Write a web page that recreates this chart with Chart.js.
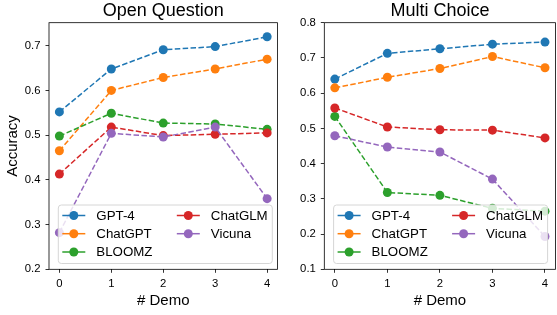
<!DOCTYPE html>
<html>
<head>
<meta charset="utf-8">
<script src="https://cdn.jsdelivr.net/npm/chart.js@4.4.1/dist/chart.umd.min.js"></script>
<style>
    html, body { margin: 0; padding: 0; background: #fff; overflow: hidden; width: 557px; height: 315px; }
    #wrap { position: relative; width: 557px; height: 315px; }
    canvas { position: absolute; top: 0; }
    #openChart { left: 0; }
    #multiChart { left: 290px; }
</style>
</head>
<body>
<div id="wrap">
    <canvas id="openChart" width="282" height="315"></canvas>
    <canvas id="multiChart" width="270" height="315"></canvas>
</div>
<script>
// --- 1. Data ---
const demoSteps = [0, 1, 2, 3, 4];
const modelNames = ['GPT-4', 'ChatGPT', 'BLOOMZ', 'ChatGLM', 'Vicuna'];
const modelColors = ['#1f77b4', '#ff7f0e', '#2ca02c', '#d62728', '#9467bd'];

// Open Question accuracy
const openGpt4    = [0.552, 0.648, 0.691, 0.698, 0.720];
const openChatgpt = [0.465, 0.600, 0.629, 0.648, 0.670];
const openBloomz  = [0.498, 0.549, 0.527, 0.525, 0.513];
const openChatglm = [0.413, 0.518, 0.499, 0.502, 0.505];
const openVicuna  = [0.282, 0.504, 0.496, 0.518, 0.358];

// Multi Choice accuracy
const multiGpt4    = [0.640, 0.713, 0.726, 0.739, 0.745];
const multiChatgpt = [0.615, 0.645, 0.670, 0.704, 0.672];
const multiBloomz  = [0.534, 0.318, 0.310, 0.273, 0.265];
const multiChatglm = [0.558, 0.504, 0.496, 0.495, 0.473];
const multiVicuna  = [0.479, 0.447, 0.433, 0.356, 0.193];

// Tick labels
const xTicks = [0, 1, 2, 3, 4];
const openYTicks = [0.2, 0.3, 0.4, 0.5, 0.6, 0.7];
const multiYTicks = [0.1, 0.2, 0.3, 0.4, 0.5, 0.6, 0.7, 0.8];

const FONT = '"Liberation Sans", Arial, sans-serif';

// --- 2. Plugins ---
// full frame round the plot area, like matplotlib spines
const framePlugin = {
    id: 'frame',
    afterDraw(chart) {
        const { ctx, chartArea: a } = chart;
        ctx.save();
        ctx.strokeStyle = '#000';
        ctx.lineWidth = 0.8;
        ctx.strokeRect(a.left, a.top, a.right - a.left, a.bottom - a.top);
        ctx.restore();
    }
};

// legend box inside the plot, two columns
const legendBoxPlugin = {
    id: 'legendBox',
    afterDatasetsDraw(chart, args, opts) {
        const { ctx, chartArea } = chart;
        const x0 = chartArea.left + opts.offsetX;
        const y0 = chartArea.bottom - opts.offsetY - opts.height;
        ctx.save();
        ctx.beginPath();
        ctx.roundRect(x0, y0, opts.width, opts.height, 3);
        ctx.fillStyle = 'rgba(255,255,255,0.8)';
        ctx.fill();
        ctx.strokeStyle = '#d6d6d6';
        ctx.lineWidth = 1;
        ctx.stroke();

        ctx.font = '13.3px ' + FONT;
        ctx.textBaseline = 'middle';
        ctx.textAlign = 'left';
        chart.data.datasets.forEach((ds, i) => {
            const col = Math.floor(i / 3);
            const row = i % 3;
            const hx = x0 + opts.colX[col];
            const hy = y0 + opts.rowY[row];
            ctx.strokeStyle = ds.borderColor;
            ctx.lineWidth = 1.5;
            ctx.beginPath();
            ctx.moveTo(hx, hy);
            ctx.lineTo(hx + 23, hy);
            ctx.stroke();
            ctx.fillStyle = ds.borderColor;
            ctx.beginPath();
            ctx.arc(hx + 11.5, hy, 4.5, 0, Math.PI * 2);
            ctx.fill();
            ctx.fillStyle = '#000';
            ctx.fillText(ds.label, hx + 34, hy + 0.5);
        });
        ctx.restore();
    }
};

// --- 3. Chart builder ---
function buildDatasets(seriesList) {
    return seriesList.map((values, i) => ({
        label: modelNames[i],
        data: demoSteps.map((d, j) => ({ x: d, y: values[j] })),
        borderColor: modelColors[i],
        backgroundColor: modelColors[i],
        pointBackgroundColor: modelColors[i],
        borderWidth: 1.5,
        borderDash: [5.5, 2.4],
        pointRadius: 4.5,
        pointBorderWidth: 0,
        pointHoverRadius: 4.5,
        fill: false,
        tension: 0,
        order: 5 - i
    }));
}

function makeChart(canvasId, cfg) {
    const tickFont = { family: FONT, size: 11.3 };
    const labelFont = { family: FONT, size: 15 };
    return new Chart(document.getElementById(canvasId), {
        type: 'line',
        data: { datasets: buildDatasets(cfg.series) },
        plugins: [framePlugin, legendBoxPlugin],
        options: {
            responsive: false,
            animation: false,
            layout: { padding: { left: 0, right: cfg.padRight, top: 0, bottom: 0 } },
            scales: {
                x: {
                    type: 'linear',
                    min: -0.2,
                    max: 4.2,
                    afterBuildTicks: (s) => { s.ticks = xTicks.map(v => ({ value: v })); },
                    afterFit: (s) => { s.height = 45.7; },
                    grid: { drawOnChartArea: false, drawTicks: true, tickLength: 3.5, color: '#000', lineWidth: 0.8 },
                    border: { display: false },
                    ticks: { color: '#000', font: tickFont, padding: 4.4, maxRotation: 0, callback: (v) => String(v) },
                    title: { display: true, text: '# Demo', color: '#000', font: labelFont, padding: { top: 0, bottom: 5.2 } }
                },
                y: {
                    min: cfg.yMin,
                    max: cfg.yMax,
                    afterBuildTicks: (s) => { s.ticks = cfg.yTicks.map(v => ({ value: v })); },
                    afterFit: (s) => { s.width = cfg.yWidth; },
                    grid: { drawOnChartArea: false, drawTicks: true, tickLength: 3.5, color: '#000', lineWidth: 0.8 },
                    border: { display: false },
                    ticks: { color: '#000', font: tickFont, padding: 5, callback: (v) => v.toFixed(1) },
                    title: { display: cfg.yTitle !== '', text: cfg.yTitle, color: '#000', font: labelFont, padding: { top: 3.5, bottom: 0 } }
                }
            },
            plugins: {
                legend: { display: false },
                tooltip: { enabled: false },
                title: {
                    display: true,
                    text: cfg.title,
                    color: '#000',
                    fullSize: false,
                    font: { family: FONT, size: 18, weight: 'normal', lineHeight: 1.2 },
                    padding: { top: 0, bottom: 1.1 }
                },
                legendBox: {
                    offsetX: 9.3,
                    offsetY: 5.8,
                    width: 214,
                    height: 58.5,
                    colX: [4, 118.5],
                    rowY: [10.5, 28.7, 47]
                }
            }
        }
    });
}

// --- 4. Render ---
makeChart('openChart', {
    title: 'Open Question',
    series: [openGpt4, openChatgpt, openBloomz, openChatglm, openVicuna],
    yMin: 0.2,
    yMax: 0.7515,
    yTicks: openYTicks,
    yWidth: 49,
    yTitle: 'Accuracy',
    padRight: 0.3
});

makeChart('multiChart', {
    title: 'Multi Choice',
    series: [multiGpt4, multiChatgpt, multiBloomz, multiChatglm, multiVicuna],
    yMin: 0.1,
    yMax: 0.8,
    yTicks: multiYTicks,
    yWidth: 34.3,
    yTitle: '',
    padRight: 2
});
</script>
</body>
</html>
